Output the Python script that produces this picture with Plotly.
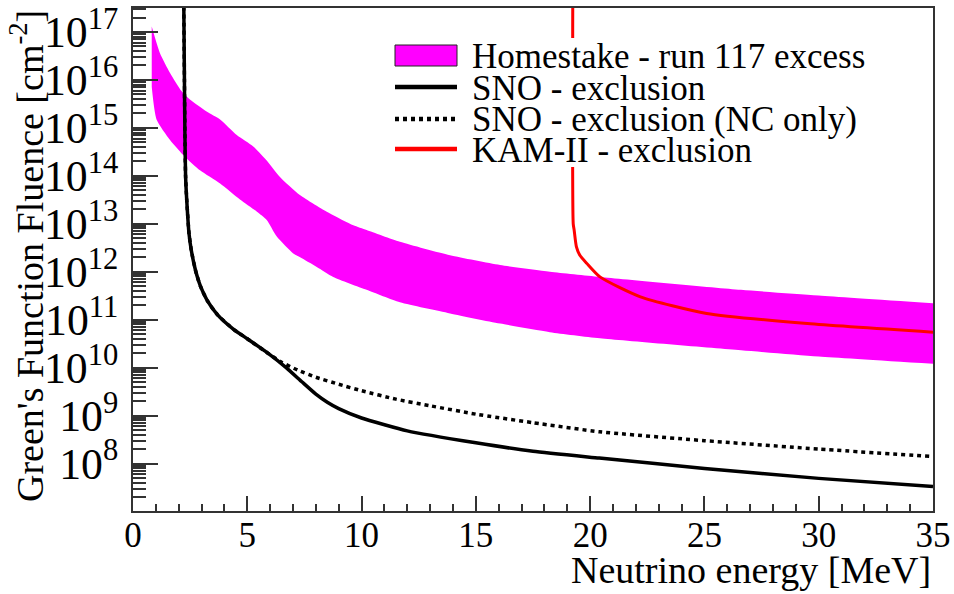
import plotly.graph_objects as go

# ---------------- data ----------------
band_upper_E = [0.82, 1.18, 1.62, 2.13, 2.49, 3.22, 3.81, 4.54, 5.26, 5.85, 6.43, 7.3,
                8.6, 9.64, 10.22, 11.68, 13.87, 16.06, 18.24, 20.43, 26.6, 30, 35]
band_upper_F = [1.3e17, 3.6e16, 1.4e16, 5.8e15, 3.9e15, 2.2e15, 1.5e15, 7.1e14, 4.1e14,
                2.1e14, 9.5e13, 4.0e13, 1.66e13, 9.3e12, 7.4e12, 4.2e12, 2.2e12, 1.38e12,
                1.0e12, 7.8e11, 4.2e11, 3.2e11, 2.2e11]
band_lower_E = [0.82, 1.03, 1.62, 2.27, 2.93, 3.81, 4.68, 5.41, 5.85, 6.29, 7.01, 7.31,
                8.04, 8.76, 10.22, 11.68, 13.87, 16.06, 18.24, 20.43, 26.6, 30, 35]
band_lower_F = [7.2e15, 1.5e15, 5.6e14, 2.5e14, 1.3e14, 6.9e13, 3.2e13, 1.8e13, 1.2e13,
                5.4e12, 2.4e12, 2.0e12, 1.26e12, 7.8e11, 4.2e11, 2.3e11, 1.35e11, 8.3e10,
                5.5e10, 4.1e10, 2.3e10, 1.7e10, 1.2e10]

sno_E = [2.22, 2.25, 2.27, 2.30, 2.35, 2.45, 2.55, 2.75, 2.95, 3.25, 3.7, 4.4, 5.0,
         5.9, 6.7, 7.4, 8.0, 8.5, 9.0, 10, 12, 15, 17.5, 20.4, 25, 30, 35]
sno_F = [5e17, 1e16, 8e14, 1.0e14, 3.2e13, 6.3e12, 2.8e12, 1.0e12, 5.0e11, 2.5e11,
         1.26e11, 6.3e10, 4.0e10, 2.0e10, 1.0e10, 5.0e9, 2.8e9, 1.9e9, 1.4e9, 8.9e8,
         4.8e8, 2.7e8, 1.8e8, 1.3e8, 7.9e7, 4.9e7, 3.3e7]

snonc_E = [2.22, 2.25, 2.27, 2.30, 2.35, 2.45, 2.55, 2.75, 2.95, 3.25, 3.7, 4.4, 5.0,
           5.9, 6.5, 7.2, 8.0, 9.0, 10, 11.5, 13, 15, 17.5, 20.4, 25, 30, 35]
snonc_F = [5e17, 1e16, 8e14, 1.0e14, 3.2e13, 6.3e12, 2.8e12, 1.0e12, 5.0e11, 2.5e11,
           1.26e11, 6.3e10, 4.0e10, 2.0e10, 1.3e10, 8.9e9, 6.3e9, 4.5e9, 3.3e9, 2.2e9,
           1.6e9, 1.07e9, 7.1e8, 4.6e8, 3.0e8, 2.0e8, 1.4e8]

kam_E = [19.24, 19.26, 19.3, 19.4, 19.55, 19.85, 20.43, 22.2, 25.1, 29.5, 35]
kam_F = [5e17, 1.0e13, 7.4e12, 3.3e12, 2.2e12, 1.5e12, 7.8e11, 3.0e11, 1.35e11, 8.3e10, 5.5e10]

legend_labels = ["Homestake - run 117 excess", "SNO - exclusion",
                 "SNO - exclusion (NC only)", "KAM-II - exclusion"]

# ---------------- layout geometry ----------------
W, H = 954, 594
L, R, T, B = 133, 21, 8, 83
PW, PH = W - L - R, H - T - B
FONT = "Liberation Serif"


def px(x):
    return (x - L) / PW


def py(y):
    return (H - B - y) / PH


fig = go.Figure()

# Homestake band: lower edge, then upper edge filled down to it
fig.add_trace(go.Scatter(
    x=band_lower_E, y=band_lower_F, mode="lines",
    line=dict(width=0, color="#ff00ff", shape="spline", smoothing=0.6),
    showlegend=False, hoverinfo="skip"))
fig.add_trace(go.Scatter(
    x=band_upper_E, y=band_upper_F, mode="lines", fill="tonexty", fillcolor="#ff00ff",
    line=dict(width=0, color="#ff00ff", shape="spline", smoothing=0.6),
    showlegend=False, hoverinfo="skip"))

fig.add_trace(go.Scatter(
    x=snonc_E, y=snonc_F, mode="lines",
    line=dict(color="black", width=3.5, dash="4px,4px", shape="spline", smoothing=0.5),
    showlegend=False))

fig.add_trace(go.Scatter(
    x=sno_E, y=sno_F, mode="lines",
    line=dict(color="black", width=3.5, shape="spline", smoothing=0.5),
    showlegend=False))

fig.add_trace(go.Scatter(
    x=kam_E, y=kam_F, mode="lines",
    line=dict(color="#ff0000", width=3, shape="spline", smoothing=0.6),
    showlegend=False))

# ---------------- custom legend (ROOT style, tight rows) ----------------
shapes = [
    dict(type="rect", xref="paper", yref="paper", x0=px(386), x1=px(878), y0=py(167), y1=py(38),
         fillcolor="white", line=dict(width=0), layer="above"),
    dict(type="rect", xref="paper", yref="paper", x0=px(395), x1=px(457), y0=py(66), y1=py(45),
         fillcolor="#ff00ff", line=dict(width=1, color="#222"), layer="above"),
    dict(type="line", xref="paper", yref="paper", x0=px(395), x1=px(457), y0=py(87), y1=py(87),
         line=dict(width=4.5, color="black"), layer="above"),
    dict(type="line", xref="paper", yref="paper", x0=px(395), x1=px(457), y0=py(119), y1=py(119),
         line=dict(width=4.5, color="black", dash="4px,4px"), layer="above"),
    dict(type="line", xref="paper", yref="paper", x0=px(395), x1=px(457), y0=py(149), y1=py(149),
         line=dict(width=4.5, color="#ff0000"), layer="above"),
]
row_y = [56, 88, 119, 150]
annotations = []
for lab, yy in zip(legend_labels, row_y):
    annotations.append(dict(text=lab, xref="paper", yref="paper", x=px(470), y=py(yy),
                            xanchor="left", yanchor="middle", showarrow=False,
                            font=dict(family=FONT, size=35, color="black")))

# axis titles (ROOT style: aligned to the axis end)
annotations.append(dict(text="Neutrino energy [MeV]", xref="paper", yref="paper",
                        x=1.0, y=py(570), xanchor="right", yanchor="middle", showarrow=False,
                        font=dict(family=FONT, size=38, color="black")))
annotations.append(dict(text="Green's Function Fluence [cm<sup>-2</sup>]", xref="paper",
                        yref="paper", x=px(27), y=1.0, xanchor="center", yanchor="top",
                        textangle=-90, showarrow=False,
                        font=dict(family=FONT, size=38, color="black")))

axis_line = "#333333"
fig.update_layout(
    width=W, height=H,
    margin=dict(l=L, r=R, t=T, b=B, pad=0),
    paper_bgcolor="white", plot_bgcolor="white",
    font=dict(family=FONT, size=35, color="black"),
    shapes=shapes, annotations=annotations,
    showlegend=False,
    xaxis=dict(range=[0, 35], tick0=0, dtick=5, ticks="inside", ticklen=15, tickwidth=1.5,
               tickcolor=axis_line, showline=True, linecolor=axis_line, linewidth=1.5,
               mirror=True, showgrid=False, zeroline=False, automargin=False,
               ticklabelstandoff=-8,
               tickfont=dict(family=FONT, size=35, color="black"),
               minor=dict(ticks="inside", ticklen=7, dtick=1, tickwidth=1.5,
                          tickcolor=axis_line, showgrid=False)),
    yaxis=dict(type="log", range=[7.01, 17.5], dtick=1, exponentformat="power",
               showexponent="all", ticks="inside", ticklen=25, tickwidth=1.5,
               tickcolor=axis_line, showline=True, linecolor=axis_line, linewidth=1.5,
               mirror=True, showgrid=False, zeroline=False, automargin=False,
               ticklabelstandoff=6,
               tickfont=dict(family=FONT, size=35, color="black"),
               minor=dict(ticks="inside", ticklen=13, dtick="D1", tickwidth=1.5,
                          tickcolor=axis_line, showgrid=False)),
)

fig.write_html("out.html")
